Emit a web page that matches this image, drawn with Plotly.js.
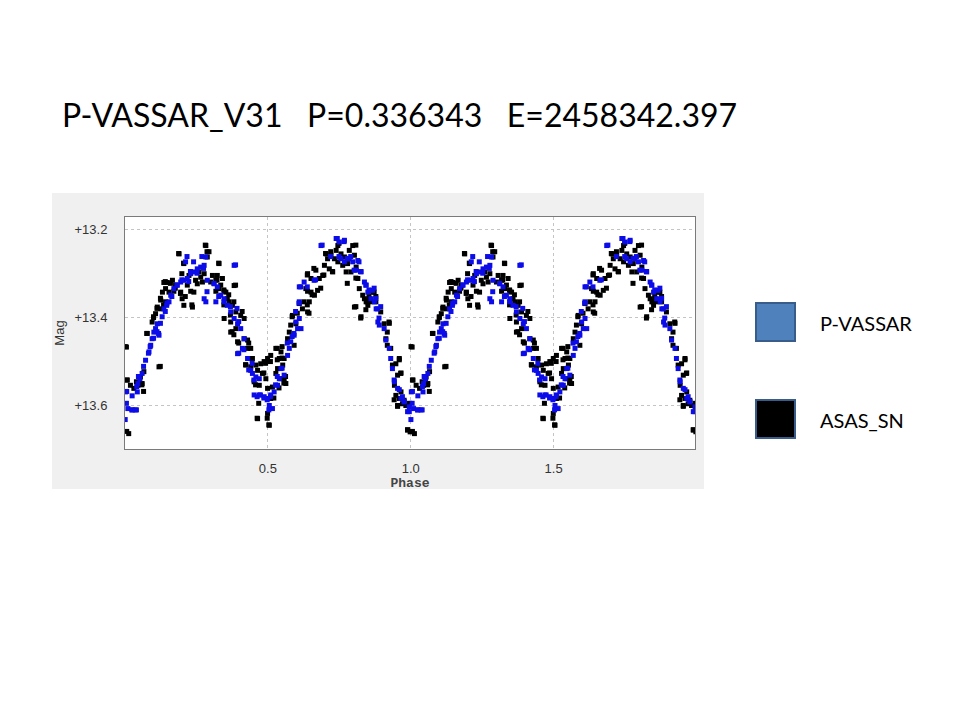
<!DOCTYPE html>
<html>
<head>
<meta charset="utf-8">
<script src="https://cdn.plot.ly/plotly-3.0.1.min.js"></script>
<style>html,body{margin:0;padding:0;background:#fff;}#chart{width:960px;height:720px;}</style>
</head>
<body>
<div id="chart"></div>
<script>
// Phase-folded light curve, one cycle (0..1); plotted over two cycles
const asasPhase = [0.005,0.008,0.013,0.045,0.06,0.078,0.119,0.10,0.113,0.125,0.136,0.148,0.166,0.171,0.189,0.199,0.206,0.206,0.218,0.23,0.236,0.247,0.259,0.271,0.283,0.288,0.294,0.30,0.329,0.318,0.329,0.341,0.347,0.358,0.382,0.376,0.347,0.37,0.388,0.405,0.417,0.37,0.394,0.417,0.429,0.44,0.423,0.44,0.458,0.475,0.487,0.452,0.47,0.499,0.51,0.528,0.546,0.557,0.534,0.546,0.557,0.563,0.464,0.499,0.505,0.51,0.569,0.58,0.598,0.592,0.61,0.627,0.639,0.639,0.633,0.651,0.668,0.663,0.639,0.692,0.704,0.721,0.727,0.739,0.745,0.745,0.756,0.768,0.785,0.797,0.803,0.774,0.791,0.809,0.815,0.803,0.826,0.832,0.844,0.855,0.867,0.872,0.878,0.924,0.918,0.913,0.93,0.936,0.948,0.96,0.965,0.954,0.948,0.954,0.971,0.983,0.989,0.998,
  0.131,0.142,0.154,0.177,0.195,0.20,0.224,0.241,0.253,0.265,0.277,0.306,0.318,0.323,0.335,0.353,0.364,0.142,0.125,0.107,0.095,
  0.388,0.429,0.446,0.464,0.481,0.493,0.499,0.516,0.528,0.54,0.552,
  0.575,0.586,0.621,0.645,0.651,0.674,0.68,0.698,0.709,0.733,0.715,0.762,0.779,
  0.82,0.838,0.85,0.861,0.895,0.907,0.918,0.943,0.96,0.966,0.977,0.995,
  0.019,0.031,0.04,0.054,0.066,
  0.4625,0.5035,0.4977,0.468,0.422,0.492,0.509,0.533,0.55,0.533,0.55,0.562,0.556,0.539,0.521,0.457,0.486,0.398,0.381,0.433,
  0.989,0.006,0.001,0.006,0.96,0.966,0.942,0.954,0.059,0.065,0.1235,
  0.281,0.287,0.188,0.205,0.328,0.387,0.141,0.159,0.176,0.194,0.211,0.234,0.124,0.135,0.112,0.10,0.322,0.346,0.363,0.381,0.346,0.369,0.41,0.076,0.375,
  0.808,0.749,0.702,0.72,0.661,0.696,0.726,0.638,0.778,0.808,0.825,0.854,0.878,0.848,0.685,0.655,0.638,0.644,0.603,0.585,0.808,0.825,0.925,0.843];
const asasMag = [13.467,13.542,13.664,13.554,13.55,13.436,13.512,13.40,13.376,13.36,13.32,13.32,13.315,13.34,13.255,13.30,13.277,13.372,13.326,13.34,13.376,13.315,13.296,13.319,13.236,13.262,13.25,13.319,13.277,13.34,13.334,13.311,13.34,13.357,13.327,13.372,13.402,13.41,13.387,13.395,13.402,13.433,13.455,13.448,13.47,13.47,13.508,13.512,13.508,13.505,13.50,13.546,13.554,13.493,13.486,13.47,13.478,13.493,13.516,13.539,13.539,13.55,13.63,13.618,13.645,13.584,13.448,13.417,13.414,13.463,13.368,13.364,13.34,13.387,13.334,13.311,13.292,13.349,13.30,13.304,13.255,13.258,13.296,13.247,13.236,13.273,13.255,13.262,13.247,13.236,13.258,13.296,13.296,13.285,13.311,13.376,13.398,13.349,13.364,13.357,13.342,13.342,13.364,13.41,13.433,13.448,13.47,13.508,13.505,13.493,13.527,13.531,13.577,13.60,13.596,13.60,13.656,13.66,
  13.342,13.334,13.342,13.326,13.342,13.357,13.304,13.342,13.323,13.308,13.30,13.304,13.315,13.304,13.326,13.342,13.364,13.364,13.38,13.391,13.41,
  13.425,13.451,13.493,13.52,13.527,13.539,13.561,13.558,13.527,13.493,13.508,
  13.433,13.395,13.38,13.364,13.342,13.338,13.311,13.281,13.266,13.266,13.289,13.281,13.277,
  13.334,13.357,13.372,13.364,13.387,13.414,13.463,13.554,13.584,13.569,13.588,13.595,
  13.554,13.561,13.546,13.535,13.523,
  13.629,13.644,13.629,13.595,13.507,13.504,13.50,13.496,13.492,13.47,13.466,13.534,13.549,13.56,13.583,13.553,13.526,13.458,13.439,13.458,
  13.655,13.659,13.466,13.542,13.496,13.526,13.587,13.602,13.553,13.568,13.511,
  13.235,13.25,13.254,13.276,13.276,13.326,13.318,13.322,13.333,13.345,13.352,13.371,13.356,13.371,13.379,13.398,13.314,13.337,13.348,13.364,13.371,13.394,13.386,13.436,13.432,
  13.235,13.231,13.254,13.25,13.288,13.303,13.295,13.303,13.322,13.31,13.295,13.352,13.352,13.364,13.333,13.348,13.371,13.39,13.39,13.398,13.375,13.401,13.413,13.382];

const vassarPhase = [0.002,0.005,0.01,0.025,0.04,0.025,0.043,0.045,0.052,0.06,0.072,0.084,0.09,0.095,0.101,0.107,0.113,0.119,0.13,0.136,0.146,0.154,0.16,0.171,0.183,0.195,0.206,0.212,0.218,0.23,0.241,0.253,0.265,0.277,0.283,0.288,0.312,0.323,0.277,0.283,0.318,0.335,0.347,0.358,0.37,0.382,0.382,0.394,0.405,0.417,0.394,0.411,0.429,0.44,0.446,0.458,0.47,0.452,0.47,0.487,0.499,0.51,0.505,0.516,0.522,0.534,0.54,0.546,0.557,0.569,0.575,0.58,0.592,0.604,0.598,0.61,0.616,0.61,0.61,0.627,0.662,0.686,0.739,0.75,0.768,0.756,0.768,0.785,0.797,0.809,0.815,0.826,0.838,0.844,0.85,0.861,0.873,0.879,0.885,0.866,0.884,0.89,0.907,0.913,0.925,0.93,0.936,0.943,0.954,0.966,0.977,0.989,0.995,
  0.4625,0.486,0.4977,0.474,0.509,0.5035,0.451,0.433,0.445,0.416,0.398,0.527,0.533,0.55,0.568,0.585,0.591,
  0.995,0.0007,0.024,0.036,0.006,0.977,0.971,0.96,0.942,0.041,0.047,0.065,0.082,0.088,0.10,0.1175,
  0.217,0.24,0.269,0.387,0.229,0.252,0.275,0.199,0.223,0.311,0.287,0.328,0.346,0.369,0.392,0.398,0.182,0.164,0.147,0.141,0.124,0.112,
  0.69,0.743,0.767,0.72,0.749,0.778,0.79,0.819,0.802,0.825,0.843,0.854,0.872,0.878,0.895,0.667,0.638,0.615,0.609,0.597,0.889];
const vassarMag = [13.569,13.595,13.607,13.61,13.61,13.578,13.569,13.55,13.539,13.527,13.497,13.478,13.463,13.448,13.433,13.425,13.414,13.44,13.398,13.38,13.372,13.364,13.349,13.334,13.326,13.319,13.315,13.273,13.311,13.30,13.296,13.289,13.285,13.281,13.262,13.315,13.323,13.33,13.357,13.364,13.364,13.349,13.357,13.372,13.387,13.281,13.402,13.414,13.425,13.448,13.482,13.47,13.493,13.52,13.527,13.535,13.539,13.576,13.576,13.58,13.584,13.576,13.60,13.607,13.569,13.554,13.539,13.516,13.531,13.486,13.47,13.455,13.44,13.425,13.41,13.402,13.425,13.364,13.33,13.319,13.315,13.236,13.22,13.228,13.224,13.266,13.273,13.266,13.273,13.292,13.27,13.296,13.319,13.326,13.342,13.357,13.364,13.38,13.41,13.338,13.38,13.417,13.425,13.451,13.47,13.493,13.516,13.546,13.561,13.584,13.592,13.614,13.603,
  13.58,13.583,13.587,13.576,13.58,13.61,13.542,13.519,13.504,13.473,13.481,13.553,13.534,13.515,13.458,13.443,13.436,
  13.614,13.632,13.61,13.61,13.568,13.591,13.58,13.564,13.542,13.557,13.534,13.511,13.481,13.466,13.447,13.436,
  13.261,13.273,13.261,13.28,13.295,13.299,13.288,13.314,13.318,13.322,13.341,13.352,13.364,13.375,13.379,13.409,13.326,13.352,13.367,13.386,13.413,13.432,
  13.235,13.22,13.227,13.261,13.261,13.265,13.261,13.273,13.292,13.295,13.326,13.337,13.333,13.356,13.375,13.314,13.33,13.33,13.367,13.386,13.401];

const xTickVals = [0.5, 1.0, 1.5];
const xTickText = ['0.5', '1.0', '1.5'];
const yTickVals = [13.2, 13.4, 13.6];
const yTickText = ['+13.2', '+13.4', '+13.6'];
const titleText = 'P-VASSAR_V31\u00A0\u00A0\u00A0P=0.336343\u00A0\u00A0\u00A0E=2458342.397';
const legendNames = ['P-VASSAR', 'ASAS_SN'];

function twoCycles(ph) { return ph.concat(ph.map(p => p + 1)); }

const traces = [
  {x: twoCycles(asasPhase), y: asasMag.concat(asasMag), mode: 'markers', type: 'scatter', name: legendNames[1],
   marker: {symbol: 'square', size: 5, color: '#000000', line: {width: 0}}, hoverinfo: 'x+y'},
  {x: twoCycles(vassarPhase), y: vassarMag.concat(vassarMag), mode: 'markers', type: 'scatter', name: legendNames[0],
   marker: {symbol: 'square', size: 5, color: '#0c0ce8', line: {width: 0}}, hoverinfo: 'x+y'}
];

const L = 125, R = 695, T = 217, B = 449;
const W = R - L, H = B - T;
const px = v => (v - L) / W;
const py = v => (B - v) / H;

const layout = {
  width: 960, height: 720,
  margin: {l: L, r: 960 - R, t: T, b: 720 - B, pad: 0},
  paper_bgcolor: '#ffffff', plot_bgcolor: 'rgba(0,0,0,0)',
  showlegend: false,
  xaxis: {
    range: [0, 1.995], tickvals: xTickVals, ticktext: xTickText,
    showgrid: true, gridcolor: '#c4c4c4', griddash: '3px,3px', gridwidth: 1,
    zeroline: false, showline: true, mirror: true, linecolor: '#7a7a7a', linewidth: 1,
    ticks: '', ticklabelstandoff: 7,
    tickfont: {family: 'Liberation Sans, Arial, sans-serif', size: 13, color: '#333333'},
    title: {text: 'Phase', font: {family: 'Liberation Mono, Courier New, monospace', size: 13, color: '#444444', weight: 'bold'}, standoff: 0}
  },
  yaxis: {
    range: [13.699, 13.171], tickvals: yTickVals, ticktext: yTickText,
    showgrid: true, gridcolor: '#c4c4c4', griddash: '3px,3px', gridwidth: 1,
    zeroline: false, showline: true, mirror: true, linecolor: '#7a7a7a', linewidth: 1,
    ticks: '', ticklabelstandoff: 14,
    tickfont: {family: 'Liberation Sans, Arial, sans-serif', size: 13, color: '#333333'},
    title: {text: 'Mag', font: {family: 'Liberation Sans, Arial, sans-serif', size: 13, color: '#333333'}, standoff: 6}
  },
  shapes: [
    {type: 'rect', xref: 'paper', yref: 'paper', layer: 'below',
     x0: px(52), x1: px(704), y0: py(489), y1: py(193), fillcolor: '#f0f0f0', line: {width: 0}},
    {type: 'rect', xref: 'paper', yref: 'paper', layer: 'below',
     x0: 0, x1: 1, y0: 0, y1: 1, fillcolor: '#ffffff', line: {width: 0}},
    {type: 'rect', xref: 'paper', yref: 'paper', layer: 'above',
     x0: px(756), x1: px(795), y0: py(341), y1: py(303), fillcolor: '#4f81bd', line: {color: '#385d8a', width: 2}},
    {type: 'rect', xref: 'paper', yref: 'paper', layer: 'above',
     x0: px(756), x1: px(795), y0: py(438), y1: py(400), fillcolor: '#000000', line: {color: '#385d8a', width: 2}}
  ],
  annotations: [
    {text: titleText, xref: 'paper', yref: 'paper', x: px(60), y: py(114), xanchor: 'left', yanchor: 'middle',
     showarrow: false, font: {family: 'Lato, Open Sans, sans-serif', size: 32, color: '#000000'}},
    {text: legendNames[0], xref: 'paper', yref: 'paper', x: px(818), y: py(323), xanchor: 'left', yanchor: 'middle',
     showarrow: false, font: {family: 'Lato, Open Sans, sans-serif', size: 20, color: '#000000'}},
    {text: legendNames[1], xref: 'paper', yref: 'paper', x: px(818), y: py(420), xanchor: 'left', yanchor: 'middle',
     showarrow: false, font: {family: 'Lato, Open Sans, sans-serif', size: 20, color: '#000000'}}
  ]
};

Plotly.newPlot('chart', traces, layout, {displayModeBar: false, staticPlot: true});
</script>
</body>
</html>
